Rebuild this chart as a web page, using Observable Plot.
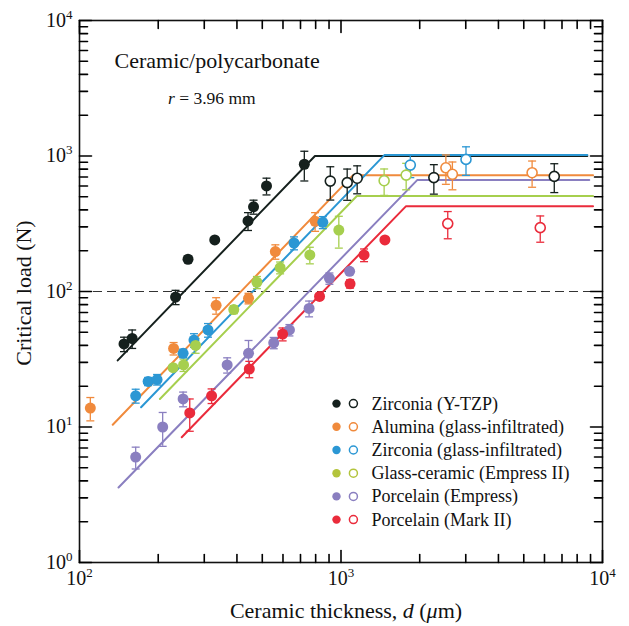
<!DOCTYPE html>
<html><head><meta charset="utf-8">
<script src="https://cdn.jsdelivr.net/npm/d3@7"></script>
<script src="https://cdn.jsdelivr.net/npm/@observablehq/plot@0.6"></script>
<style>
body{margin:0;background:#fff;}
#chart{position:relative;width:629px;height:626px;}
</style></head><body><div id="chart"></div>
<script>
// ---------- data ----------
const materials = ["Zirconia (Y-TZP)","Alumina (glass-infiltrated)","Zirconia (glass-infiltrated)","Glass-ceramic (Empress II)","Porcelain (Empress)","Porcelain (Mark II)"];

// Zirconia (Y-TZP)
const ytzpD = [148,159,233,260,329,441,463,519,724];
const ytzpP = [41,45,91,173,240,332,422,601,869];
const ytzpE = [5,7,11,0,0,50,50,85,215];
const ytzpOpenD = [910,1056,1153,2265,6540];
const ytzpOpenP = [653,636,686,693,707];
const ytzpOpenE = [180,165,160,170,170];
const ytzpLineD = [140,795,8750];
const ytzpLineP = [31,1000,1000];

// Alumina (glass-infiltrated)
const aluD = [110,229,333,443,561,796];
const aluP = [13.8,38,79,89,197,330];
const aluE = [2.7,4,11,8,24,52];
const aluOpenD = [2518,2667,5380];
const aluOpenP = [818,733,753];
const aluOpenE = [200,170,165];
const aluLineD = [134,1110,9200];
const aluLineP = [10.4,720,720];

// Zirconia (glass-infiltrated)
const zgiD = [164,183,198,249,274,310,661,852];
const zgiP = [17,21.7,22.4,35,43.8,52,228,324];
const zgiE = [2,1.5,2,2.5,5,6,25,33];
const zgiOpenD = [1841,3006];
const zgiOpenP = [857,944];
const zgiOpenE = [165,225];
const zgiLineD = [172,1465,8750];
const zgiLineP = [14.0,1015,1015];

// Glass-ceramic (Empress II)
const gcD = [228,250,278,389,477,585,760,981];
const gcP = [27.4,28.7,40,73.6,117,150,186,284];
const gcE = [0,3,5,5,12,15,26,75];
const gcOpenD = [1462,1775];
const gcOpenP = [657,723];
const gcOpenE = [145,160];
const gcLineD = [203,1150,9200];
const gcLineP = [16.1,507,507];

// Porcelain (Empress)
const peD = [164,208,249,367,443,553,635,755,903,1079];
const peP = [6.0,10.0,16.1,28.7,35,41.8,52,75,125,141];
const peE = [1.1,2.8,2,3.7,8.5,4,5,10,12,0];
const peLineD = [141,1960,8900];
const peLineP = [3.58,666,666];

// Porcelain (Mark II)
const m2D = [264,320,446,598,828,1083,1225,1472];
const m2P = [12.7,17,26.8,48.5,92,114,186,240];
const m2E = [3.4,2.1,3.7,5.3,0,8,20,0];
const m2OpenD = [2560,5780];
const m2OpenP = [317,296];
const m2OpenE = [72,65];
const m2LineD = [246,1770,9200];
const m2LineP = [8.4,425,425];

const xMajor = [100,1000,10000];
const xMinor = [200,300,400,500,600,700,800,900,2000,3000,4000,5000,6000,7000,8000,9000];
const yMajor = [1,10,100,1000,10000];
const yMinor = [2,3,4,5,6,7,8,9,20,30,40,50,60,70,80,90,200,300,400,500,600,700,800,900,2000,3000,4000,5000,6000,7000,8000,9000];
const refLoad = [100];

// ---------- styles ----------
const colors = {
  "Zirconia (Y-TZP)": "#15201d",
  "Alumina (glass-infiltrated)": "#f08a3c",
  "Zirconia (glass-infiltrated)": "#2b97d4",
  "Glass-ceramic (Empress II)": "#a6cf4e",
  "Porcelain (Empress)": "#8a7fc0",
  "Porcelain (Mark II)": "#ea2b3b"
};
const legendColors = {...colors, "Glass-ceramic (Empress II)": "#b3c43c"};

// ---------- tables ----------
function rows(m, D, P, E, open) { return D.map((d,i)=>({material:m, d, P:P[i], err:E[i], open})); }
function lineRows(m, D, P) { return D.map((d,i)=>({material:m, d, P:P[i]})); }

const filled = [
  ...rows(materials[0], ytzpD, ytzpP, ytzpE, false),
  ...rows(materials[1], aluD, aluP, aluE, false),
  ...rows(materials[2], zgiD, zgiP, zgiE, false),
  ...rows(materials[3], gcD, gcP, gcE, false),
  ...rows(materials[4], peD, peP, peE, false),
  ...rows(materials[5], m2D, m2P, m2E, false)
];
const openPts = [
  ...rows(materials[0], ytzpOpenD, ytzpOpenP, ytzpOpenE, true),
  ...rows(materials[1], aluOpenD, aluOpenP, aluOpenE, true),
  ...rows(materials[2], zgiOpenD, zgiOpenP, zgiOpenE, true),
  ...rows(materials[3], gcOpenD, gcOpenP, gcOpenE, true),
  ...rows(materials[5], m2OpenD, m2OpenP, m2OpenE, true)
];
const lines = [
  ...lineRows(materials[0], ytzpLineD, ytzpLineP),
  ...lineRows(materials[1], aluLineD, aluLineP),
  ...lineRows(materials[2], zgiLineD, zgiLineP),
  ...lineRows(materials[3], gcLineD, gcLineP),
  ...lineRows(materials[4], peLineD, peLineP),
  ...lineRows(materials[5], m2LineD, m2LineP)
];
const allPts = [...filled, ...openPts].filter(r => r.err > 0);

const capSymbol = {draw(ctx, size){ const r = Math.sqrt(size/Math.PI); ctx.moveTo(-r,0); ctx.lineTo(r,0); }};
const tickShape = {draw(ctx, l){ ctx.moveTo(0,0); ctx.lineTo(0,-l); }};
const col = d => colors[d.material];
const expFmt = d => "10^" + Math.round(Math.log10(d));
const tv = {shape: tickShape, anchor: "start", stroke: "#000", strokeWidth: 1.6};

const plot = Plot.plot({
  width: 629, height: 626,
  marginLeft: 79, marginRight: 27, marginTop: 20, marginBottom: 64,
  style: {fontFamily: "'Liberation Serif','Times New Roman',serif", color: "#111", background: "white"},
  x: {type: "log", domain: [100, 10000]},
  y: {type: "log", domain: [1, 10000]},
  color: {type: "identity"},
  marks: [
    Plot.axisX(xMajor, {anchor: "bottom", tickSize: 0, tickPadding: 8, tickFormat: expFmt, fontSize: 20, label: null}),
    Plot.axisY(yMajor, {anchor: "left", tickSize: 0, tickPadding: 7, tickFormat: expFmt, fontSize: 20, label: null}),
    Plot.ruleY(refLoad, {stroke: "#333", strokeWidth: 1, strokeDasharray: "9,5"}),
    Plot.line(lines, {x: "d", y: "P", z: "material", stroke: col, strokeWidth: 2}),
    Plot.ruleX(allPts, {x: "d", y1: d => d.P - d.err, y2: d => d.P + d.err, stroke: col, strokeWidth: 1.3}),
    Plot.dot(allPts, {x: "d", y: d => d.P + d.err, symbol: capSymbol, r: 4, fill: "none", stroke: col, strokeWidth: 1.3}),
    Plot.dot(allPts, {x: "d", y: d => d.P - d.err, symbol: capSymbol, r: 4, fill: "none", stroke: col, strokeWidth: 1.3}),
    Plot.dot(filled, {x: "d", y: "P", r: 5.5, fill: col, stroke: "none"}),
    Plot.dot(openPts, {x: "d", y: "P", r: 5, fill: "white", stroke: col, strokeWidth: 1.6}),
    Plot.frame({stroke: "#111", strokeWidth: 1.6}),
    // inward ticks (vectors anchored on the frame edges)
    Plot.vector(xMajor, {...tv, x: d => d, frameAnchor: "bottom", rotate: 0, length: 12}),
    Plot.vector(xMinor, {...tv, x: d => d, frameAnchor: "bottom", rotate: 0, length: 8}),
    Plot.vector(xMajor, {...tv, x: d => d, frameAnchor: "top", rotate: 180, length: 12}),
    Plot.vector(xMinor, {...tv, x: d => d, frameAnchor: "top", rotate: 180, length: 8}),
    Plot.vector(yMajor, {...tv, y: d => d, frameAnchor: "left", rotate: 90, length: 12}),
    Plot.vector(yMinor, {...tv, y: d => d, frameAnchor: "left", rotate: 90, length: 8}),
    Plot.vector(yMajor, {...tv, y: d => d, frameAnchor: "right", rotate: -90, length: 12}),
    Plot.vector(yMinor, {...tv, y: d => d, frameAnchor: "right", rotate: -90, length: 8})
  ]
});
document.getElementById("chart").appendChild(plot);

const svg = d3.select(plot);

// superscripts for power-of-ten tick labels
svg.selectAll("text").each(function() {
  const t = this.textContent;
  if (t.indexOf("^") < 0) return;
  const [base, ex] = t.split("^");
  const el = d3.select(this);
  el.text("");
  el.append("tspan").text(base);
  el.append("tspan").attr("dy", "-8").attr("font-size", 13).text(ex);
});

const ff = "'Liberation Serif','Times New Roman',serif";
const ann = svg.append("g").attr("font-family", ff).attr("fill", "#111").attr("text-anchor", "start");
ann.append("text").attr("x", 114.5).attr("y", 68).attr("font-size", 22).text("Ceramic/polycarbonate");
const rt = ann.append("text").attr("x", 168).attr("y", 104).attr("font-size", 17.5);
rt.append("tspan").attr("font-style", "italic").text("r");
rt.append("tspan").text(" = 3.96 mm");

const xl = ann.append("text").attr("x", 346).attr("y", 618).attr("font-size", 22).attr("text-anchor", "middle");
xl.append("tspan").text("Ceramic thickness, ");
xl.append("tspan").attr("font-style", "italic").text("d");
xl.append("tspan").text(" (");
xl.append("tspan").attr("font-style", "italic").text("\u03bc");
xl.append("tspan").text("m)");

ann.append("text").attr("transform", "translate(31,293) rotate(-90)").attr("text-anchor", "middle").attr("font-size", 22).text("Critical load (N)");

const leg = ann.append("g");
materials.forEach((m, i) => {
  const cy = 403.6 + 23.2 * i;
  leg.append("circle").attr("cx", 336.5).attr("cy", cy).attr("r", 4.2).attr("fill", legendColors[m]);
  leg.append("circle").attr("cx", 353.4).attr("cy", cy).attr("r", 4).attr("fill", "white").attr("stroke", legendColors[m]).attr("stroke-width", 1.5);
  leg.append("text").attr("x", 371.5).attr("y", cy + 6).attr("font-size", 18).text(m);
});
</script></body></html>
